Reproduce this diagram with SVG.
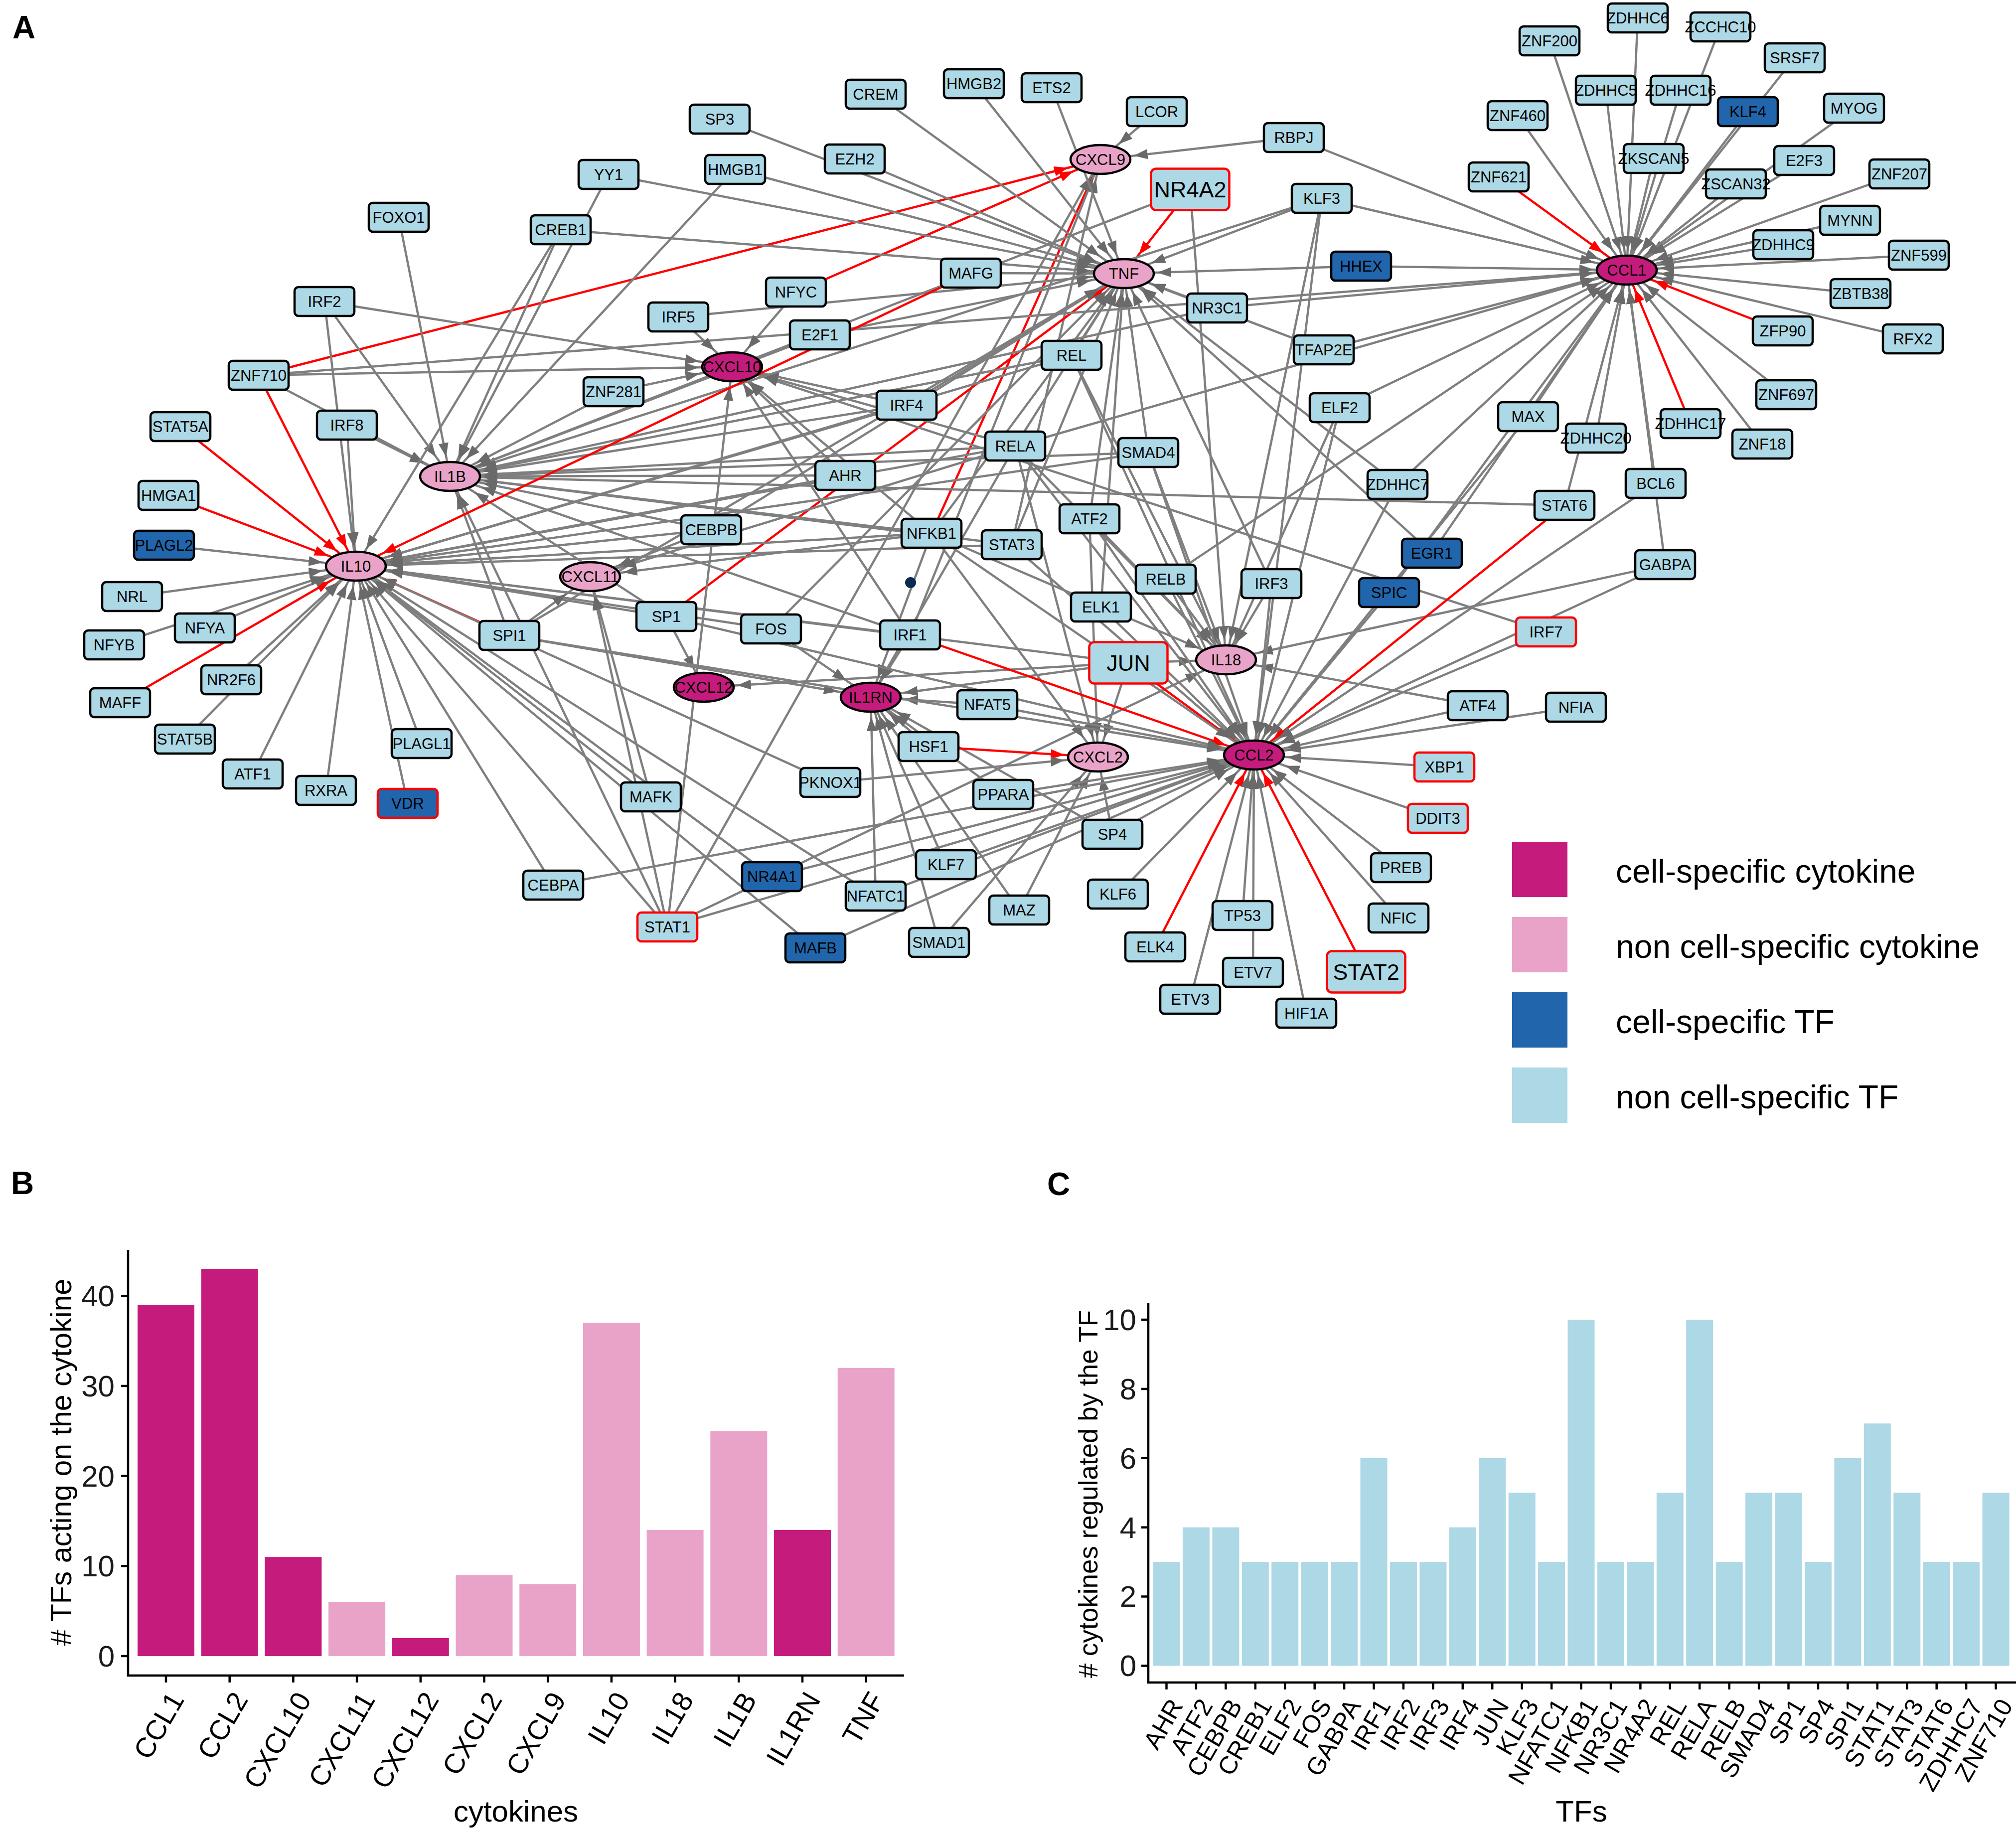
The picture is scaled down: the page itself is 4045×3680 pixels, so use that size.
<svg xmlns="http://www.w3.org/2000/svg" width="4045" height="3680" viewBox="0 0 4045 3680">
<defs>
<style>
#edges line{stroke:#7f7f7f;stroke-width:4.5;fill:none}
#edges line.rH,#edges line.rM,#edges line.rD,#edges line.rV{stroke:#ff0000;stroke-width:4.5}
.gH{marker-end:url(#mgH)}.gM{marker-end:url(#mgM)}.gD{marker-end:url(#mgD)}.gV{marker-end:url(#mgV)}
.rH{marker-end:url(#mrH)}.rM{marker-end:url(#mrM)}.rD{marker-end:url(#mrD)}.rV{marker-end:url(#mrV)}
.tf rect{fill:#add8e6;stroke:#000;stroke-width:4.5}
.tf.d rect{fill:#2166ac}
.tf.r rect{stroke:#ff0000}
.ck ellipse{stroke:#000;stroke-width:4.5}
.ck.cs ellipse{fill:#c51b7d}
.ck.nc ellipse{fill:#e9a3c9}
.tf text,.ck text{font-family:"Liberation Sans",Arial,sans-serif;font-size:31px;text-anchor:middle;fill:#000}
.tf.b text{font-size:45px}
.ax{stroke:#000;stroke-width:4.5;fill:none}
.tk{font-family:"Liberation Sans",Arial,sans-serif;font-size:60px;fill:#1a1a1a;text-anchor:end}
.xl{font-family:"Liberation Sans",Arial,sans-serif;font-size:56px;fill:#000;text-anchor:end}
.xc{font-family:"Liberation Sans",Arial,sans-serif;font-size:50px;fill:#000;text-anchor:end}
.tt{font-family:"Liberation Sans",Arial,sans-serif;fill:#000;text-anchor:middle}
.pl{font-family:"Liberation Sans",Arial,sans-serif;font-weight:bold;font-size:64px;fill:#000}
.lg{font-family:"Liberation Sans",Arial,sans-serif;font-size:66px;fill:#000}
</style>
<marker id="mgH" markerUnits="userSpaceOnUse" orient="auto" markerWidth="110" markerHeight="20" refX="95" refY="10"><path d="M0 0L28 10L0 20Z" fill="#6a6a6a"/></marker>
<marker id="mgM" markerUnits="userSpaceOnUse" orient="auto" markerWidth="110" markerHeight="20" refX="87" refY="10"><path d="M0 0L28 10L0 20Z" fill="#6a6a6a"/></marker>
<marker id="mgD" markerUnits="userSpaceOnUse" orient="auto" markerWidth="110" markerHeight="20" refX="76" refY="10"><path d="M0 0L28 10L0 20Z" fill="#6a6a6a"/></marker>
<marker id="mgV" markerUnits="userSpaceOnUse" orient="auto" markerWidth="110" markerHeight="20" refX="68" refY="10"><path d="M0 0L28 10L0 20Z" fill="#6a6a6a"/></marker>
<marker id="mrH" markerUnits="userSpaceOnUse" orient="auto" markerWidth="110" markerHeight="20" refX="95" refY="10"><path d="M0 0L28 10L0 20Z" fill="#ff0000"/></marker>
<marker id="mrM" markerUnits="userSpaceOnUse" orient="auto" markerWidth="110" markerHeight="20" refX="87" refY="10"><path d="M0 0L28 10L0 20Z" fill="#ff0000"/></marker>
<marker id="mrD" markerUnits="userSpaceOnUse" orient="auto" markerWidth="110" markerHeight="20" refX="76" refY="10"><path d="M0 0L28 10L0 20Z" fill="#ff0000"/></marker>
<marker id="mrV" markerUnits="userSpaceOnUse" orient="auto" markerWidth="110" markerHeight="20" refX="68" refY="10"><path d="M0 0L28 10L0 20Z" fill="#ff0000"/></marker>
</defs>
<rect x="0" y="0" width="4045" height="3680" fill="#fff"/>
<text class="pl" x="25" y="77">A</text>
<text class="pl" x="22" y="2396">B</text>
<text class="pl" x="2101" y="2398">C</text>
<g id="edges">
<line x1="2321" y1="224" x2="2208" y2="320" class="gD"/>
<line x1="2596" y1="276" x2="2208" y2="320" class="gH"/>
<line x1="519" y1="753" x2="2208" y2="320" class="rH"/>
<line x1="1597" y1="586" x2="2208" y2="320" class="rM"/>
<line x1="1869" y1="1070" x2="2208" y2="320" class="rV"/>
<line x1="1339" y1="1860" x2="2208" y2="320" class="gV"/>
<line x1="1826" y1="1274" x2="2208" y2="320" class="gV"/>
<line x1="2030" y1="1093" x2="2208" y2="320" class="gV"/>
<line x1="1444" y1="239" x2="2255" y2="549" class="gM"/>
<line x1="1757" y1="189" x2="2255" y2="549" class="gM"/>
<line x1="1954" y1="168" x2="2255" y2="549" class="gD"/>
<line x1="2110" y1="176" x2="2255" y2="549" class="gV"/>
<line x1="1475" y1="340" x2="2255" y2="549" class="gH"/>
<line x1="1715" y1="319" x2="2255" y2="549" class="gM"/>
<line x1="1221" y1="350" x2="2255" y2="549" class="gH"/>
<line x1="1125" y1="461" x2="2255" y2="549" class="gH"/>
<line x1="1948" y1="548" x2="2255" y2="549" class="gH"/>
<line x1="1361" y1="636" x2="2255" y2="549" class="gH"/>
<line x1="1645" y1="672" x2="2255" y2="549" class="gH"/>
<line x1="1337" y1="1237" x2="2255" y2="549" class="rD"/>
<line x1="2388" y1="380" x2="2255" y2="549" class="rD"/>
<line x1="2652" y1="398" x2="2255" y2="549" class="gM"/>
<line x1="2731" y1="534" x2="2255" y2="549" class="gH"/>
<line x1="2442" y1="618" x2="2255" y2="549" class="gM"/>
<line x1="2150" y1="713" x2="2255" y2="549" class="gV"/>
<line x1="2037" y1="895" x2="2255" y2="549" class="gV"/>
<line x1="2304" y1="908" x2="2255" y2="549" class="gV"/>
<line x1="2186" y1="1041" x2="2255" y2="549" class="gV"/>
<line x1="1819" y1="813" x2="2255" y2="549" class="gM"/>
<line x1="2656" y1="702" x2="2255" y2="549" class="gM"/>
<line x1="2030" y1="1093" x2="2255" y2="549" class="gV"/>
<line x1="1869" y1="1070" x2="2255" y2="549" class="gD"/>
<line x1="1547" y1="1262" x2="2255" y2="549" class="gD"/>
<line x1="1022" y1="1275" x2="2255" y2="549" class="gM"/>
<line x1="1427" y1="1063" x2="2255" y2="549" class="gM"/>
<line x1="2209" y1="1218" x2="2255" y2="549" class="gV"/>
<line x1="2873" y1="1110" x2="2255" y2="549" class="gD"/>
<line x1="2551" y1="1171" x2="2255" y2="549" class="gV"/>
<line x1="2804" y1="972" x2="2255" y2="549" class="gD"/>
<line x1="3286" y1="36" x2="3264" y2="542" class="gV"/>
<line x1="3452" y1="54" x2="3264" y2="542" class="gV"/>
<line x1="3109" y1="82" x2="3264" y2="542" class="gV"/>
<line x1="3601" y1="116" x2="3264" y2="542" class="gD"/>
<line x1="3222" y1="181" x2="3264" y2="542" class="gV"/>
<line x1="3372" y1="181" x2="3264" y2="542" class="gV"/>
<line x1="3045" y1="232" x2="3264" y2="542" class="gD"/>
<line x1="3507" y1="224" x2="3264" y2="542" class="gD"/>
<line x1="3720" y1="217" x2="3264" y2="542" class="gM"/>
<line x1="3318" y1="318" x2="3264" y2="542" class="gV"/>
<line x1="3620" y1="322" x2="3264" y2="542" class="gM"/>
<line x1="3811" y1="349" x2="3264" y2="542" class="gM"/>
<line x1="3007" y1="355" x2="3264" y2="542" class="rM"/>
<line x1="3483" y1="369" x2="3264" y2="542" class="gD"/>
<line x1="3712" y1="442" x2="3264" y2="542" class="gH"/>
<line x1="3578" y1="491" x2="3264" y2="542" class="gH"/>
<line x1="3850" y1="512" x2="3264" y2="542" class="gH"/>
<line x1="3733" y1="589" x2="3264" y2="542" class="gH"/>
<line x1="3577" y1="664" x2="3264" y2="542" class="rM"/>
<line x1="3838" y1="680" x2="3264" y2="542" class="gH"/>
<line x1="3584" y1="792" x2="3264" y2="542" class="gD"/>
<line x1="3392" y1="850" x2="3264" y2="542" class="rV"/>
<line x1="3536" y1="891" x2="3264" y2="542" class="gD"/>
<line x1="3066" y1="836" x2="3264" y2="542" class="gD"/>
<line x1="3202" y1="879" x2="3264" y2="542" class="gV"/>
<line x1="3322" y1="970" x2="3264" y2="542" class="gV"/>
<line x1="3139" y1="1014" x2="3264" y2="542" class="gV"/>
<line x1="2804" y1="972" x2="3264" y2="542" class="gD"/>
<line x1="2731" y1="534" x2="3264" y2="542" class="gH"/>
<line x1="2652" y1="398" x2="3264" y2="542" class="gH"/>
<line x1="2596" y1="276" x2="3264" y2="542" class="gM"/>
<line x1="2656" y1="702" x2="3264" y2="542" class="gH"/>
<line x1="2688" y1="818" x2="3264" y2="542" class="gM"/>
<line x1="3341" y1="1133" x2="3264" y2="542" class="gV"/>
<line x1="2873" y1="1110" x2="3264" y2="542" class="gD"/>
<line x1="2442" y1="618" x2="3264" y2="542" class="gH"/>
<line x1="2339" y1="1162" x2="3264" y2="542" class="gM"/>
<line x1="2787" y1="1189" x2="3264" y2="542" class="gD"/>
<line x1="519" y1="753" x2="3264" y2="542" class="gH"/>
<line x1="2037" y1="895" x2="3264" y2="542" class="gH"/>
<line x1="651" y1="605" x2="1469" y2="736" class="gH"/>
<line x1="519" y1="753" x2="1469" y2="736" class="gH"/>
<line x1="1597" y1="586" x2="1469" y2="736" class="gD"/>
<line x1="1361" y1="636" x2="1469" y2="736" class="gD"/>
<line x1="1231" y1="786" x2="1469" y2="736" class="gH"/>
<line x1="1696" y1="954" x2="1469" y2="736" class="gD"/>
<line x1="1339" y1="1860" x2="1469" y2="736" class="gV"/>
<line x1="1826" y1="1274" x2="1469" y2="736" class="gV"/>
<line x1="1869" y1="1070" x2="1469" y2="736" class="gD"/>
<line x1="2037" y1="895" x2="1469" y2="736" class="gH"/>
<line x1="3102" y1="1268" x2="1469" y2="736" class="gH"/>
<line x1="1819" y1="813" x2="1469" y2="736" class="gH"/>
<line x1="800" y1="436" x2="903" y2="956" class="gV"/>
<line x1="1221" y1="350" x2="903" y2="956" class="gV"/>
<line x1="1475" y1="340" x2="903" y2="956" class="gD"/>
<line x1="1125" y1="461" x2="903" y2="956" class="gV"/>
<line x1="651" y1="605" x2="903" y2="956" class="gD"/>
<line x1="519" y1="753" x2="903" y2="956" class="gM"/>
<line x1="696" y1="853" x2="903" y2="956" class="gM"/>
<line x1="1231" y1="786" x2="903" y2="956" class="gM"/>
<line x1="1696" y1="954" x2="903" y2="956" class="gH"/>
<line x1="2388" y1="380" x2="903" y2="956" class="gM"/>
<line x1="2652" y1="398" x2="903" y2="956" class="gH"/>
<line x1="1826" y1="1274" x2="903" y2="956" class="gH"/>
<line x1="1819" y1="813" x2="903" y2="956" class="gH"/>
<line x1="1869" y1="1070" x2="903" y2="956" class="gH"/>
<line x1="2037" y1="895" x2="903" y2="956" class="gH"/>
<line x1="2150" y1="713" x2="903" y2="956" class="gH"/>
<line x1="1337" y1="1237" x2="903" y2="956" class="gM"/>
<line x1="1022" y1="1275" x2="903" y2="956" class="gV"/>
<line x1="1339" y1="1860" x2="903" y2="956" class="gV"/>
<line x1="2030" y1="1093" x2="903" y2="956" class="gH"/>
<line x1="1427" y1="1063" x2="903" y2="956" class="gH"/>
<line x1="3139" y1="1014" x2="903" y2="956" class="gH"/>
<line x1="1645" y1="672" x2="903" y2="956" class="gM"/>
<line x1="2304" y1="908" x2="903" y2="956" class="gH"/>
<line x1="2442" y1="618" x2="903" y2="956" class="gH"/>
<line x1="362" y1="856" x2="714" y2="1136" class="rD"/>
<line x1="338" y1="994" x2="714" y2="1136" class="rM"/>
<line x1="519" y1="753" x2="714" y2="1136" class="rV"/>
<line x1="241" y1="1410" x2="714" y2="1136" class="rM"/>
<line x1="1022" y1="1275" x2="714" y2="1136" class="rM"/>
<line x1="1948" y1="548" x2="714" y2="1136" class="rM"/>
<line x1="329" y1="1094" x2="714" y2="1136" class="gH"/>
<line x1="265" y1="1197" x2="714" y2="1136" class="gH"/>
<line x1="411" y1="1260" x2="714" y2="1136" class="gM"/>
<line x1="229" y1="1294" x2="714" y2="1136" class="gH"/>
<line x1="464" y1="1364" x2="714" y2="1136" class="gD"/>
<line x1="371" y1="1483" x2="714" y2="1136" class="gD"/>
<line x1="507" y1="1553" x2="714" y2="1136" class="gV"/>
<line x1="654" y1="1586" x2="714" y2="1136" class="gV"/>
<line x1="846" y1="1492" x2="714" y2="1136" class="gV"/>
<line x1="818" y1="1612" x2="714" y2="1136" class="gV"/>
<line x1="696" y1="853" x2="714" y2="1136" class="gV"/>
<line x1="651" y1="605" x2="714" y2="1136" class="gV"/>
<line x1="1125" y1="461" x2="714" y2="1136" class="gV"/>
<line x1="1427" y1="1063" x2="714" y2="1136" class="gH"/>
<line x1="1547" y1="1262" x2="714" y2="1136" class="gH"/>
<line x1="1826" y1="1274" x2="714" y2="1136" class="gH"/>
<line x1="1819" y1="813" x2="714" y2="1136" class="gH"/>
<line x1="2264" y1="1330" x2="714" y2="1136" class="gH"/>
<line x1="1869" y1="1070" x2="714" y2="1136" class="gH"/>
<line x1="2037" y1="895" x2="714" y2="1136" class="gH"/>
<line x1="2150" y1="713" x2="714" y2="1136" class="gH"/>
<line x1="2304" y1="908" x2="714" y2="1136" class="gH"/>
<line x1="1337" y1="1237" x2="714" y2="1136" class="gH"/>
<line x1="1339" y1="1860" x2="714" y2="1136" class="gD"/>
<line x1="2030" y1="1093" x2="714" y2="1136" class="gH"/>
<line x1="1757" y1="1798" x2="714" y2="1136" class="gM"/>
<line x1="1306" y1="1599" x2="714" y2="1136" class="gD"/>
<line x1="1666" y1="1570" x2="714" y2="1136" class="gM"/>
<line x1="1110" y1="1776" x2="714" y2="1136" class="gV"/>
<line x1="1549" y1="1759" x2="714" y2="1136" class="gD"/>
<line x1="1636" y1="1902" x2="714" y2="1136" class="gD"/>
<line x1="1696" y1="954" x2="714" y2="1136" class="gH"/>
<line x1="1427" y1="1063" x2="1184" y2="1157" class="gM"/>
<line x1="1339" y1="1860" x2="1184" y2="1157" class="gV"/>
<line x1="1869" y1="1070" x2="1184" y2="1157" class="gH"/>
<line x1="2037" y1="895" x2="1184" y2="1157" class="gH"/>
<line x1="1022" y1="1275" x2="1184" y2="1157" class="gM"/>
<line x1="1306" y1="1599" x2="1184" y2="1157" class="gV"/>
<line x1="1337" y1="1237" x2="1412" y2="1379" class="gV"/>
<line x1="2264" y1="1330" x2="1412" y2="1379" class="gH"/>
<line x1="1826" y1="1274" x2="1747" y2="1399" class="gV"/>
<line x1="1547" y1="1262" x2="1747" y2="1399" class="gM"/>
<line x1="2264" y1="1330" x2="1747" y2="1399" class="gH"/>
<line x1="1757" y1="1798" x2="1747" y2="1399" class="gV"/>
<line x1="1869" y1="1070" x2="1747" y2="1399" class="gV"/>
<line x1="2037" y1="895" x2="1747" y2="1399" class="gV"/>
<line x1="2232" y1="1674" x2="1747" y2="1399" class="gM"/>
<line x1="1022" y1="1275" x2="1747" y2="1399" class="gH"/>
<line x1="1863" y1="1498" x2="1747" y2="1399" class="gD"/>
<line x1="2013" y1="1594" x2="1747" y2="1399" class="gM"/>
<line x1="1898" y1="1735" x2="1747" y2="1399" class="gV"/>
<line x1="1884" y1="1891" x2="1747" y2="1399" class="gV"/>
<line x1="2045" y1="1826" x2="1747" y2="1399" class="gD"/>
<line x1="1981" y1="1414" x2="1747" y2="1399" class="gH"/>
<line x1="2388" y1="380" x2="2460" y2="1324" class="gV"/>
<line x1="2652" y1="398" x2="2460" y2="1324" class="gV"/>
<line x1="2186" y1="1041" x2="2460" y2="1324" class="gD"/>
<line x1="2688" y1="818" x2="2460" y2="1324" class="gV"/>
<line x1="3341" y1="1133" x2="2460" y2="1324" class="gH"/>
<line x1="2551" y1="1171" x2="2460" y2="1324" class="gV"/>
<line x1="2264" y1="1330" x2="2460" y2="1324" class="gH"/>
<line x1="1869" y1="1070" x2="2460" y2="1324" class="gM"/>
<line x1="2037" y1="895" x2="2460" y2="1324" class="gD"/>
<line x1="2339" y1="1162" x2="2460" y2="1324" class="gD"/>
<line x1="2304" y1="908" x2="2460" y2="1324" class="gV"/>
<line x1="1339" y1="1860" x2="2460" y2="1324" class="gM"/>
<line x1="2965" y1="1416" x2="2460" y2="1324" class="gH"/>
<line x1="2150" y1="713" x2="2460" y2="1324" class="gV"/>
<line x1="2186" y1="1041" x2="2203" y2="1519" class="gV"/>
<line x1="2264" y1="1330" x2="2203" y2="1519" class="gV"/>
<line x1="1869" y1="1070" x2="2203" y2="1519" class="gD"/>
<line x1="2037" y1="895" x2="2203" y2="1519" class="gV"/>
<line x1="2232" y1="1674" x2="2203" y2="1519" class="gV"/>
<line x1="1863" y1="1498" x2="2203" y2="1519" class="rH"/>
<line x1="1666" y1="1570" x2="2203" y2="1519" class="gH"/>
<line x1="1884" y1="1891" x2="2203" y2="1519" class="gD"/>
<line x1="2045" y1="1826" x2="2203" y2="1519" class="gV"/>
<line x1="1826" y1="1274" x2="2516" y2="1515" class="rM"/>
<line x1="2264" y1="1330" x2="2516" y2="1515" class="rM"/>
<line x1="3139" y1="1014" x2="2516" y2="1515" class="rD"/>
<line x1="2318" y1="1900" x2="2516" y2="1515" class="rV"/>
<line x1="2741" y1="1950" x2="2516" y2="1515" class="rV"/>
<line x1="2551" y1="1171" x2="2516" y2="1515" class="gV"/>
<line x1="2652" y1="398" x2="2516" y2="1515" class="gV"/>
<line x1="2186" y1="1041" x2="2516" y2="1515" class="gD"/>
<line x1="2688" y1="818" x2="2516" y2="1515" class="gV"/>
<line x1="3341" y1="1133" x2="2516" y2="1515" class="gM"/>
<line x1="1869" y1="1070" x2="2516" y2="1515" class="gM"/>
<line x1="2037" y1="895" x2="2516" y2="1515" class="gD"/>
<line x1="2339" y1="1162" x2="2516" y2="1515" class="gV"/>
<line x1="2150" y1="713" x2="2516" y2="1515" class="gV"/>
<line x1="2304" y1="908" x2="2516" y2="1515" class="gV"/>
<line x1="1337" y1="1237" x2="2516" y2="1515" class="gH"/>
<line x1="1022" y1="1275" x2="2516" y2="1515" class="gH"/>
<line x1="1339" y1="1860" x2="2516" y2="1515" class="gH"/>
<line x1="2030" y1="1093" x2="2516" y2="1515" class="gD"/>
<line x1="2804" y1="972" x2="2516" y2="1515" class="gV"/>
<line x1="1757" y1="1798" x2="2516" y2="1515" class="gM"/>
<line x1="2232" y1="1674" x2="2516" y2="1515" class="gM"/>
<line x1="3066" y1="836" x2="2516" y2="1515" class="gD"/>
<line x1="3322" y1="970" x2="2516" y2="1515" class="gM"/>
<line x1="2787" y1="1189" x2="2516" y2="1515" class="gD"/>
<line x1="3102" y1="1268" x2="2516" y2="1515" class="gM"/>
<line x1="1981" y1="1414" x2="2516" y2="1515" class="gH"/>
<line x1="2965" y1="1416" x2="2516" y2="1515" class="gH"/>
<line x1="3162" y1="1419" x2="2516" y2="1515" class="gH"/>
<line x1="2013" y1="1594" x2="2516" y2="1515" class="gH"/>
<line x1="2898" y1="1539" x2="2516" y2="1515" class="gH"/>
<line x1="2885" y1="1642" x2="2516" y2="1515" class="gH"/>
<line x1="1110" y1="1776" x2="2516" y2="1515" class="gH"/>
<line x1="1549" y1="1759" x2="2516" y2="1515" class="gH"/>
<line x1="1898" y1="1735" x2="2516" y2="1515" class="gM"/>
<line x1="2243" y1="1794" x2="2516" y2="1515" class="gD"/>
<line x1="2811" y1="1741" x2="2516" y2="1515" class="gD"/>
<line x1="1636" y1="1902" x2="2516" y2="1515" class="gM"/>
<line x1="2493" y1="1837" x2="2516" y2="1515" class="gV"/>
<line x1="2806" y1="1842" x2="2516" y2="1515" class="gD"/>
<line x1="2514" y1="1951" x2="2516" y2="1515" class="gV"/>
<line x1="2388" y1="2005" x2="2516" y2="1515" class="gV"/>
<line x1="2621" y1="2033" x2="2516" y2="1515" class="gV"/>
<line x1="2209" y1="1218" x2="2516" y2="1515" class="gD"/>
</g>
<g id="nodes">
<g id="n-CXCL9" class="ck nc"><ellipse cx="2208" cy="320" rx="60" ry="29"/><text x="2208" y="331">CXCL9</text></g>
<g id="n-TNF" class="ck nc"><ellipse cx="2255" cy="549" rx="60" ry="29"/><text x="2255" y="560">TNF</text></g>
<g id="n-CCL1" class="ck cs"><ellipse cx="3264" cy="542" rx="60" ry="29"/><text x="3264" y="553">CCL1</text></g>
<g id="n-CXCL10" class="ck cs"><ellipse cx="1469" cy="736" rx="60" ry="29"/><text x="1469" y="747">CXCL10</text></g>
<g id="n-IL1B" class="ck nc"><ellipse cx="903" cy="956" rx="60" ry="29"/><text x="903" y="967">IL1B</text></g>
<g id="n-IL10" class="ck nc"><ellipse cx="714" cy="1136" rx="60" ry="29"/><text x="714" y="1147">IL10</text></g>
<g id="n-CXCL11" class="ck nc"><ellipse cx="1184" cy="1157" rx="60" ry="29"/><text x="1184" y="1168">CXCL11</text></g>
<g id="n-CXCL12" class="ck cs"><ellipse cx="1412" cy="1379" rx="60" ry="29"/><text x="1412" y="1390">CXCL12</text></g>
<g id="n-IL1RN" class="ck cs"><ellipse cx="1747" cy="1399" rx="60" ry="29"/><text x="1747" y="1410">IL1RN</text></g>
<g id="n-IL18" class="ck nc"><ellipse cx="2460" cy="1324" rx="60" ry="29"/><text x="2460" y="1335">IL18</text></g>
<g id="n-CXCL2" class="ck nc"><ellipse cx="2203" cy="1519" rx="60" ry="29"/><text x="2203" y="1530">CXCL2</text></g>
<g id="n-CCL2" class="ck cs"><ellipse cx="2516" cy="1515" rx="60" ry="29"/><text x="2516" y="1526">CCL2</text></g>
<circle id="n-dot" cx="1827" cy="1169" r="11" fill="#0b2a52"/>
<g id="n-SP3" class="tf"><rect x="1384" y="210" width="120" height="58" rx="8"/><text x="1444" y="250">SP3</text></g>
<g id="n-CREM" class="tf"><rect x="1697" y="160" width="120" height="58" rx="8"/><text x="1757" y="200">CREM</text></g>
<g id="n-HMGB2" class="tf"><rect x="1894" y="139" width="120" height="58" rx="8"/><text x="1954" y="179">HMGB2</text></g>
<g id="n-ETS2" class="tf"><rect x="2050" y="147" width="120" height="58" rx="8"/><text x="2110" y="187">ETS2</text></g>
<g id="n-LCOR" class="tf"><rect x="2261" y="195" width="120" height="58" rx="8"/><text x="2321" y="235">LCOR</text></g>
<g id="n-RBPJ" class="tf"><rect x="2536" y="247" width="120" height="58" rx="8"/><text x="2596" y="287">RBPJ</text></g>
<g id="n-NR4A2" class="tf r b"><rect x="2309.5" y="338.5" width="157" height="83" rx="10"/><text x="2388" y="396">NR4A2</text></g>
<g id="n-KLF3" class="tf"><rect x="2592" y="369" width="120" height="58" rx="8"/><text x="2652" y="409">KLF3</text></g>
<g id="n-YY1" class="tf"><rect x="1161" y="321" width="120" height="58" rx="8"/><text x="1221" y="361">YY1</text></g>
<g id="n-HMGB1" class="tf"><rect x="1415" y="311" width="120" height="58" rx="8"/><text x="1475" y="351">HMGB1</text></g>
<g id="n-EZH2" class="tf"><rect x="1655" y="290" width="120" height="58" rx="8"/><text x="1715" y="330">EZH2</text></g>
<g id="n-FOXO1" class="tf"><rect x="740" y="407" width="120" height="58" rx="8"/><text x="800" y="447">FOXO1</text></g>
<g id="n-CREB1" class="tf"><rect x="1065" y="432" width="120" height="58" rx="8"/><text x="1125" y="472">CREB1</text></g>
<g id="n-IRF2" class="tf"><rect x="591" y="576" width="120" height="58" rx="8"/><text x="651" y="616">IRF2</text></g>
<g id="n-NFYC" class="tf"><rect x="1537" y="557" width="120" height="58" rx="8"/><text x="1597" y="597">NFYC</text></g>
<g id="n-MAFG" class="tf"><rect x="1888" y="519" width="120" height="58" rx="8"/><text x="1948" y="559">MAFG</text></g>
<g id="n-HHEX" class="tf d"><rect x="2671" y="505" width="120" height="58" rx="8"/><text x="2731" y="545">HHEX</text></g>
<g id="n-NR3C1" class="tf"><rect x="2382" y="589" width="120" height="58" rx="8"/><text x="2442" y="629">NR3C1</text></g>
<g id="n-IRF5" class="tf"><rect x="1301" y="607" width="120" height="58" rx="8"/><text x="1361" y="647">IRF5</text></g>
<g id="n-E2F1" class="tf"><rect x="1585" y="643" width="120" height="58" rx="8"/><text x="1645" y="683">E2F1</text></g>
<g id="n-REL" class="tf"><rect x="2090" y="684" width="120" height="58" rx="8"/><text x="2150" y="724">REL</text></g>
<g id="n-TFAP2E" class="tf"><rect x="2596" y="673" width="120" height="58" rx="8"/><text x="2656" y="713">TFAP2E</text></g>
<g id="n-ZNF710" class="tf"><rect x="459" y="724" width="120" height="58" rx="8"/><text x="519" y="764">ZNF710</text></g>
<g id="n-ZNF281" class="tf"><rect x="1171" y="757" width="120" height="58" rx="8"/><text x="1231" y="797">ZNF281</text></g>
<g id="n-IRF4" class="tf"><rect x="1759" y="784" width="120" height="58" rx="8"/><text x="1819" y="824">IRF4</text></g>
<g id="n-ELF2" class="tf"><rect x="2628" y="789" width="120" height="58" rx="8"/><text x="2688" y="829">ELF2</text></g>
<g id="n-MAX" class="tf"><rect x="3006" y="807" width="120" height="58" rx="8"/><text x="3066" y="847">MAX</text></g>
<g id="n-STAT5A" class="tf"><rect x="302" y="827" width="120" height="58" rx="8"/><text x="362" y="867">STAT5A</text></g>
<g id="n-IRF8" class="tf"><rect x="636" y="824" width="120" height="58" rx="8"/><text x="696" y="864">IRF8</text></g>
<g id="n-RELA" class="tf"><rect x="1977" y="866" width="120" height="58" rx="8"/><text x="2037" y="906">RELA</text></g>
<g id="n-SMAD4" class="tf"><rect x="2244" y="879" width="120" height="58" rx="8"/><text x="2304" y="919">SMAD4</text></g>
<g id="n-ZDHHC20" class="tf"><rect x="3142" y="850" width="120" height="58" rx="8"/><text x="3202" y="890">ZDHHC20</text></g>
<g id="n-ZDHHC17" class="tf"><rect x="3332" y="821" width="120" height="58" rx="8"/><text x="3392" y="861">ZDHHC17</text></g>
<g id="n-ZNF18" class="tf"><rect x="3476" y="862" width="120" height="58" rx="8"/><text x="3536" y="902">ZNF18</text></g>
<g id="n-HMGA1" class="tf"><rect x="278" y="965" width="120" height="58" rx="8"/><text x="338" y="1005">HMGA1</text></g>
<g id="n-AHR" class="tf"><rect x="1636" y="925" width="120" height="58" rx="8"/><text x="1696" y="965">AHR</text></g>
<g id="n-ZDHHC7" class="tf"><rect x="2744" y="943" width="120" height="58" rx="8"/><text x="2804" y="983">ZDHHC7</text></g>
<g id="n-STAT6" class="tf"><rect x="3079" y="985" width="120" height="58" rx="8"/><text x="3139" y="1025">STAT6</text></g>
<g id="n-BCL6" class="tf"><rect x="3262" y="941" width="120" height="58" rx="8"/><text x="3322" y="981">BCL6</text></g>
<g id="n-PLAGL2" class="tf d"><rect x="269" y="1065" width="120" height="58" rx="8"/><text x="329" y="1105">PLAGL2</text></g>
<g id="n-CEBPB" class="tf"><rect x="1367" y="1034" width="120" height="58" rx="8"/><text x="1427" y="1074">CEBPB</text></g>
<g id="n-NFKB1" class="tf"><rect x="1809" y="1041" width="120" height="58" rx="8"/><text x="1869" y="1081">NFKB1</text></g>
<g id="n-ATF2" class="tf"><rect x="2126" y="1012" width="120" height="58" rx="8"/><text x="2186" y="1052">ATF2</text></g>
<g id="n-STAT3" class="tf"><rect x="1970" y="1064" width="120" height="58" rx="8"/><text x="2030" y="1104">STAT3</text></g>
<g id="n-EGR1" class="tf d"><rect x="2813" y="1081" width="120" height="58" rx="8"/><text x="2873" y="1121">EGR1</text></g>
<g id="n-GABPA" class="tf"><rect x="3281" y="1104" width="120" height="58" rx="8"/><text x="3341" y="1144">GABPA</text></g>
<g id="n-NRL" class="tf"><rect x="205" y="1168" width="120" height="58" rx="8"/><text x="265" y="1208">NRL</text></g>
<g id="n-NFYA" class="tf"><rect x="351" y="1231" width="120" height="58" rx="8"/><text x="411" y="1271">NFYA</text></g>
<g id="n-NFYB" class="tf"><rect x="169" y="1265" width="120" height="58" rx="8"/><text x="229" y="1305">NFYB</text></g>
<g id="n-SP1" class="tf"><rect x="1277" y="1208" width="120" height="58" rx="8"/><text x="1337" y="1248">SP1</text></g>
<g id="n-FOS" class="tf"><rect x="1487" y="1233" width="120" height="58" rx="8"/><text x="1547" y="1273">FOS</text></g>
<g id="n-IRF1" class="tf"><rect x="1766" y="1245" width="120" height="58" rx="8"/><text x="1826" y="1285">IRF1</text></g>
<g id="n-ELK1" class="tf"><rect x="2149" y="1189" width="120" height="58" rx="8"/><text x="2209" y="1229">ELK1</text></g>
<g id="n-RELB" class="tf"><rect x="2279" y="1133" width="120" height="58" rx="8"/><text x="2339" y="1173">RELB</text></g>
<g id="n-IRF3" class="tf"><rect x="2491" y="1142" width="120" height="58" rx="8"/><text x="2551" y="1182">IRF3</text></g>
<g id="n-SPIC" class="tf d"><rect x="2727" y="1160" width="120" height="58" rx="8"/><text x="2787" y="1200">SPIC</text></g>
<g id="n-IRF7" class="tf r"><rect x="3042" y="1239" width="120" height="58" rx="8"/><text x="3102" y="1279">IRF7</text></g>
<g id="n-SPI1" class="tf"><rect x="962" y="1246" width="120" height="58" rx="8"/><text x="1022" y="1286">SPI1</text></g>
<g id="n-NR2F6" class="tf"><rect x="404" y="1335" width="120" height="58" rx="8"/><text x="464" y="1375">NR2F6</text></g>
<g id="n-MAFF" class="tf"><rect x="181" y="1381" width="120" height="58" rx="8"/><text x="241" y="1421">MAFF</text></g>
<g id="n-JUN" class="tf r b"><rect x="2185.5" y="1288.5" width="157" height="83" rx="10"/><text x="2264" y="1346">JUN</text></g>
<g id="n-NFAT5" class="tf"><rect x="1921" y="1385" width="120" height="58" rx="8"/><text x="1981" y="1425">NFAT5</text></g>
<g id="n-ATF4" class="tf"><rect x="2905" y="1387" width="120" height="58" rx="8"/><text x="2965" y="1427">ATF4</text></g>
<g id="n-NFIA" class="tf"><rect x="3102" y="1390" width="120" height="58" rx="8"/><text x="3162" y="1430">NFIA</text></g>
<g id="n-STAT5B" class="tf"><rect x="311" y="1454" width="120" height="58" rx="8"/><text x="371" y="1494">STAT5B</text></g>
<g id="n-PLAGL1" class="tf"><rect x="786" y="1463" width="120" height="58" rx="8"/><text x="846" y="1503">PLAGL1</text></g>
<g id="n-HSF1" class="tf"><rect x="1803" y="1469" width="120" height="58" rx="8"/><text x="1863" y="1509">HSF1</text></g>
<g id="n-ATF1" class="tf"><rect x="447" y="1524" width="120" height="58" rx="8"/><text x="507" y="1564">ATF1</text></g>
<g id="n-RXRA" class="tf"><rect x="594" y="1557" width="120" height="58" rx="8"/><text x="654" y="1597">RXRA</text></g>
<g id="n-VDR" class="tf d r"><rect x="758" y="1583" width="120" height="58" rx="8"/><text x="818" y="1623">VDR</text></g>
<g id="n-MAFK" class="tf"><rect x="1246" y="1570" width="120" height="58" rx="8"/><text x="1306" y="1610">MAFK</text></g>
<g id="n-PKNOX1" class="tf"><rect x="1606" y="1541" width="120" height="58" rx="8"/><text x="1666" y="1581">PKNOX1</text></g>
<g id="n-PPARA" class="tf"><rect x="1953" y="1565" width="120" height="58" rx="8"/><text x="2013" y="1605">PPARA</text></g>
<g id="n-XBP1" class="tf r"><rect x="2838" y="1510" width="120" height="58" rx="8"/><text x="2898" y="1550">XBP1</text></g>
<g id="n-DDIT3" class="tf r"><rect x="2825" y="1613" width="120" height="58" rx="8"/><text x="2885" y="1653">DDIT3</text></g>
<g id="n-SP4" class="tf"><rect x="2172" y="1645" width="120" height="58" rx="8"/><text x="2232" y="1685">SP4</text></g>
<g id="n-CEBPA" class="tf"><rect x="1050" y="1747" width="120" height="58" rx="8"/><text x="1110" y="1787">CEBPA</text></g>
<g id="n-NR4A1" class="tf d"><rect x="1489" y="1730" width="120" height="58" rx="8"/><text x="1549" y="1770">NR4A1</text></g>
<g id="n-KLF7" class="tf"><rect x="1838" y="1706" width="120" height="58" rx="8"/><text x="1898" y="1746">KLF7</text></g>
<g id="n-NFATC1" class="tf"><rect x="1697" y="1769" width="120" height="58" rx="8"/><text x="1757" y="1809">NFATC1</text></g>
<g id="n-KLF6" class="tf"><rect x="2183" y="1765" width="120" height="58" rx="8"/><text x="2243" y="1805">KLF6</text></g>
<g id="n-PREB" class="tf"><rect x="2751" y="1712" width="120" height="58" rx="8"/><text x="2811" y="1752">PREB</text></g>
<g id="n-MAFB" class="tf d"><rect x="1576" y="1873" width="120" height="58" rx="8"/><text x="1636" y="1913">MAFB</text></g>
<g id="n-STAT1" class="tf r"><rect x="1279" y="1831" width="120" height="58" rx="8"/><text x="1339" y="1871">STAT1</text></g>
<g id="n-SMAD1" class="tf"><rect x="1824" y="1862" width="120" height="58" rx="8"/><text x="1884" y="1902">SMAD1</text></g>
<g id="n-MAZ" class="tf"><rect x="1985" y="1797" width="120" height="58" rx="8"/><text x="2045" y="1837">MAZ</text></g>
<g id="n-TP53" class="tf"><rect x="2433" y="1808" width="120" height="58" rx="8"/><text x="2493" y="1848">TP53</text></g>
<g id="n-NFIC" class="tf"><rect x="2746" y="1813" width="120" height="58" rx="8"/><text x="2806" y="1853">NFIC</text></g>
<g id="n-ELK4" class="tf"><rect x="2258" y="1871" width="120" height="58" rx="8"/><text x="2318" y="1911">ELK4</text></g>
<g id="n-STAT2" class="tf r b"><rect x="2662.5" y="1908.5" width="157" height="83" rx="10"/><text x="2741" y="1966">STAT2</text></g>
<g id="n-ETV7" class="tf"><rect x="2454" y="1922" width="120" height="58" rx="8"/><text x="2514" y="1962">ETV7</text></g>
<g id="n-ETV3" class="tf"><rect x="2328" y="1976" width="120" height="58" rx="8"/><text x="2388" y="2016">ETV3</text></g>
<g id="n-HIF1A" class="tf"><rect x="2561" y="2004" width="120" height="58" rx="8"/><text x="2621" y="2044">HIF1A</text></g>
<g id="n-ZDHHC6" class="tf"><rect x="3226" y="7" width="120" height="58" rx="8"/><text x="3286" y="47">ZDHHC6</text></g>
<g id="n-ZCCHC10" class="tf"><rect x="3392" y="25" width="120" height="58" rx="8"/><text x="3452" y="65">ZCCHC10</text></g>
<g id="n-ZNF200" class="tf"><rect x="3049" y="53" width="120" height="58" rx="8"/><text x="3109" y="93">ZNF200</text></g>
<g id="n-SRSF7" class="tf"><rect x="3541" y="87" width="120" height="58" rx="8"/><text x="3601" y="127">SRSF7</text></g>
<g id="n-ZDHHC5" class="tf"><rect x="3162" y="152" width="120" height="58" rx="8"/><text x="3222" y="192">ZDHHC5</text></g>
<g id="n-ZDHHC16" class="tf"><rect x="3312" y="152" width="120" height="58" rx="8"/><text x="3372" y="192">ZDHHC16</text></g>
<g id="n-ZNF460" class="tf"><rect x="2985" y="203" width="120" height="58" rx="8"/><text x="3045" y="243">ZNF460</text></g>
<g id="n-KLF4" class="tf d"><rect x="3447" y="195" width="120" height="58" rx="8"/><text x="3507" y="235">KLF4</text></g>
<g id="n-MYOG" class="tf"><rect x="3660" y="188" width="120" height="58" rx="8"/><text x="3720" y="228">MYOG</text></g>
<g id="n-ZKSCAN5" class="tf"><rect x="3258" y="289" width="120" height="58" rx="8"/><text x="3318" y="329">ZKSCAN5</text></g>
<g id="n-E2F3" class="tf"><rect x="3560" y="293" width="120" height="58" rx="8"/><text x="3620" y="333">E2F3</text></g>
<g id="n-ZNF207" class="tf"><rect x="3751" y="320" width="120" height="58" rx="8"/><text x="3811" y="360">ZNF207</text></g>
<g id="n-ZNF621" class="tf"><rect x="2947" y="326" width="120" height="58" rx="8"/><text x="3007" y="366">ZNF621</text></g>
<g id="n-ZSCAN32" class="tf"><rect x="3423" y="340" width="120" height="58" rx="8"/><text x="3483" y="380">ZSCAN32</text></g>
<g id="n-MYNN" class="tf"><rect x="3652" y="413" width="120" height="58" rx="8"/><text x="3712" y="453">MYNN</text></g>
<g id="n-ZDHHC9" class="tf"><rect x="3518" y="462" width="120" height="58" rx="8"/><text x="3578" y="502">ZDHHC9</text></g>
<g id="n-ZNF599" class="tf"><rect x="3790" y="483" width="120" height="58" rx="8"/><text x="3850" y="523">ZNF599</text></g>
<g id="n-ZBTB38" class="tf"><rect x="3673" y="560" width="120" height="58" rx="8"/><text x="3733" y="600">ZBTB38</text></g>
<g id="n-ZFP90" class="tf"><rect x="3517" y="635" width="120" height="58" rx="8"/><text x="3577" y="675">ZFP90</text></g>
<g id="n-RFX2" class="tf"><rect x="3778" y="651" width="120" height="58" rx="8"/><text x="3838" y="691">RFX2</text></g>
<g id="n-ZNF697" class="tf"><rect x="3524" y="763" width="120" height="58" rx="8"/><text x="3584" y="803">ZNF697</text></g>
</g>
<g id="legend">
<rect x="3034" y="1689" width="111" height="111" fill="#c51b7d"/>
<rect x="3034" y="1840" width="111" height="111" fill="#e9a3c9"/>
<rect x="3034" y="1991" width="111" height="111" fill="#2166ac"/>
<rect x="3034" y="2142" width="111" height="111" fill="#add8e6"/>
<text class="lg" x="3242" y="1771">cell-specific cytokine</text>
<text class="lg" x="3242" y="1922">non cell-specific cytokine</text>
<text class="lg" x="3242" y="2073">cell-specific TF</text>
<text class="lg" x="3242" y="2224">non cell-specific TF</text>
</g>
<g id="panelB">
<rect x="276" y="2618.3" width="114" height="704.7" fill="#c51b7d"/>
<rect x="403.7" y="2546" width="114" height="777" fill="#c51b7d"/>
<rect x="531.4" y="3124.2" width="114" height="198.8" fill="#c51b7d"/>
<rect x="659.1" y="3214.6" width="114" height="108.4" fill="#e9a3c9"/>
<rect x="786.8" y="3286.9" width="114" height="36.1" fill="#c51b7d"/>
<rect x="914.5" y="3160.4" width="114" height="162.6" fill="#e9a3c9"/>
<rect x="1042.2" y="3178.4" width="114" height="144.6" fill="#e9a3c9"/>
<rect x="1169.9" y="2654.4" width="114" height="668.6" fill="#e9a3c9"/>
<rect x="1297.6" y="3070" width="114" height="253" fill="#e9a3c9"/>
<rect x="1425.3" y="2871.2" width="114" height="451.8" fill="#e9a3c9"/>
<rect x="1553" y="3070" width="114" height="253" fill="#c51b7d"/>
<rect x="1680.7" y="2744.8" width="114" height="578.2" fill="#e9a3c9"/>
<path class="ax" d="M257 2508V3362H1814"/>
<path class="ax" d="M243 3323H257M243 3142.3H257M243 2961.6H257M243 2780.9H257M243 2600.2H257"/>
<path class="ax" d="M333 3362V3376M460.7 3362V3376M588.4 3362V3376M716.1 3362V3376M843.8 3362V3376M971.5 3362V3376M1099.2 3362V3376M1226.9 3362V3376M1354.6 3362V3376M1482.3 3362V3376M1610 3362V3376M1737.7 3362V3376"/>
<text class="tk" x="230" y="3344">0</text>
<text class="tk" x="230" y="3163">10</text>
<text class="tk" x="230" y="2983">20</text>
<text class="tk" x="230" y="2802">30</text>
<text class="tk" x="230" y="2621">40</text>
<text class="xl" transform="translate(371,3410) rotate(-60)">CCL1</text>
<text class="xl" transform="translate(499,3410) rotate(-60)">CCL2</text>
<text class="xl" transform="translate(626,3410) rotate(-60)">CXCL10</text>
<text class="xl" transform="translate(754,3410) rotate(-60)">CXCL11</text>
<text class="xl" transform="translate(882,3410) rotate(-60)">CXCL12</text>
<text class="xl" transform="translate(1009,3410) rotate(-60)">CXCL2</text>
<text class="xl" transform="translate(1137,3410) rotate(-60)">CXCL9</text>
<text class="xl" transform="translate(1265,3410) rotate(-60)">IL10</text>
<text class="xl" transform="translate(1393,3410) rotate(-60)">IL18</text>
<text class="xl" transform="translate(1520,3410) rotate(-60)">IL1B</text>
<text class="xl" transform="translate(1648,3410) rotate(-60)">IL1RN</text>
<text class="xl" transform="translate(1776,3410) rotate(-60)">TNF</text>
<text class="tt" font-size="59" transform="translate(143,2934) rotate(-90)"># TFs acting on the cytokine</text>
<text class="tt" font-size="60" x="1035" y="3655">cytokines</text>
</g>
<g id="panelC" fill="#add8e6">
<rect x="2313.5" y="3134.1" width="54" height="208.4"/>
<rect x="2372.9" y="3064.7" width="54" height="277.8"/>
<rect x="2432.4" y="3064.7" width="54" height="277.8"/>
<rect x="2491.8" y="3134.1" width="54" height="208.4"/>
<rect x="2551.2" y="3134.1" width="54" height="208.4"/>
<rect x="2610.7" y="3134.1" width="54" height="208.4"/>
<rect x="2670.1" y="3134.1" width="54" height="208.4"/>
<rect x="2729.5" y="2925.8" width="54" height="416.7"/>
<rect x="2788.9" y="3134.1" width="54" height="208.4"/>
<rect x="2848.4" y="3134.1" width="54" height="208.4"/>
<rect x="2907.8" y="3064.7" width="54" height="277.8"/>
<rect x="2967.2" y="2925.8" width="54" height="416.7"/>
<rect x="3026.7" y="2995.2" width="54" height="347.3"/>
<rect x="3086.1" y="3134.1" width="54" height="208.4"/>
<rect x="3145.5" y="2648" width="54" height="694.5"/>
<rect x="3205" y="3134.1" width="54" height="208.4"/>
<rect x="3264.4" y="3134.1" width="54" height="208.4"/>
<rect x="3323.8" y="2995.2" width="54" height="347.3"/>
<rect x="3383.2" y="2648" width="54" height="694.5"/>
<rect x="3442.7" y="3134.1" width="54" height="208.4"/>
<rect x="3502.1" y="2995.2" width="54" height="347.3"/>
<rect x="3561.5" y="2995.2" width="54" height="347.3"/>
<rect x="3621" y="3134.1" width="54" height="208.4"/>
<rect x="3680.4" y="2925.8" width="54" height="416.7"/>
<rect x="3739.8" y="2856.3" width="54" height="486.2"/>
<rect x="3799.3" y="2995.2" width="54" height="347.3"/>
<rect x="3858.7" y="3134.1" width="54" height="208.4"/>
<rect x="3918.1" y="3134.1" width="54" height="208.4"/>
<rect x="3977.5" y="2995.2" width="54" height="347.3"/>
<path class="ax" d="M2304 2615V3376H4045"/>
<path class="ax" d="M2290 3342.5H2304M2290 3203.6H2304M2290 3064.7H2304M2290 2925.8H2304M2290 2786.9H2304M2290 2648H2304"/>
<path class="ax" d="M2340.5 3376V3390M2399.9 3376V3390M2459.4 3376V3390M2518.8 3376V3390M2578.2 3376V3390M2637.7 3376V3390M2697.1 3376V3390M2756.5 3376V3390M2815.9 3376V3390M2875.4 3376V3390M2934.8 3376V3390M2994.2 3376V3390M3053.7 3376V3390M3113.1 3376V3390M3172.5 3376V3390M3232 3376V3390M3291.4 3376V3390M3350.8 3376V3390M3410.2 3376V3390M3469.7 3376V3390M3529.1 3376V3390M3588.5 3376V3390M3648 3376V3390M3707.4 3376V3390M3766.8 3376V3390M3826.3 3376V3390M3885.7 3376V3390M3945.1 3376V3390M4004.5 3376V3390"/>
<text class="tk" x="2280" y="3363">0</text>
<text class="tk" x="2280" y="3224">2</text>
<text class="tk" x="2280" y="3086">4</text>
<text class="tk" x="2280" y="2947">6</text>
<text class="tk" x="2280" y="2808">8</text>
<text class="tk" x="2280" y="2669">10</text>
<text class="xc" transform="translate(2375,3422) rotate(-60)">AHR</text>
<text class="xc" transform="translate(2435,3422) rotate(-60)">ATF2</text>
<text class="xc" transform="translate(2494,3422) rotate(-60)">CEBPB</text>
<text class="xc" transform="translate(2554,3422) rotate(-60)">CREB1</text>
<text class="xc" transform="translate(2613,3422) rotate(-60)">ELF2</text>
<text class="xc" transform="translate(2673,3422) rotate(-60)">FOS</text>
<text class="xc" transform="translate(2732,3422) rotate(-60)">GABPA</text>
<text class="xc" transform="translate(2792,3422) rotate(-60)">IRF1</text>
<text class="xc" transform="translate(2851,3422) rotate(-60)">IRF2</text>
<text class="xc" transform="translate(2910,3422) rotate(-60)">IRF3</text>
<text class="xc" transform="translate(2970,3422) rotate(-60)">IRF4</text>
<text class="xc" transform="translate(3029,3422) rotate(-60)">JUN</text>
<text class="xc" transform="translate(3089,3422) rotate(-60)">KLF3</text>
<text class="xc" transform="translate(3148,3422) rotate(-60)">NFATC1</text>
<text class="xc" transform="translate(3208,3422) rotate(-60)">NFKB1</text>
<text class="xc" transform="translate(3267,3422) rotate(-60)">NR3C1</text>
<text class="xc" transform="translate(3326,3422) rotate(-60)">NR4A2</text>
<text class="xc" transform="translate(3386,3422) rotate(-60)">REL</text>
<text class="xc" transform="translate(3445,3422) rotate(-60)">RELA</text>
<text class="xc" transform="translate(3505,3422) rotate(-60)">RELB</text>
<text class="xc" transform="translate(3564,3422) rotate(-60)">SMAD4</text>
<text class="xc" transform="translate(3624,3422) rotate(-60)">SP1</text>
<text class="xc" transform="translate(3683,3422) rotate(-60)">SP4</text>
<text class="xc" transform="translate(3742,3422) rotate(-60)">SPI1</text>
<text class="xc" transform="translate(3802,3422) rotate(-60)">STAT1</text>
<text class="xc" transform="translate(3861,3422) rotate(-60)">STAT3</text>
<text class="xc" transform="translate(3921,3422) rotate(-60)">STAT6</text>
<text class="xc" transform="translate(3980,3422) rotate(-60)">ZDHHC7</text>
<text class="xc" transform="translate(4040,3422) rotate(-60)">ZNF710</text>
<text class="tt" font-size="53" fill="#000" transform="translate(2202,2998) rotate(-90)"># cytokines regulated by the TF</text>
<text class="tt" font-size="60" fill="#000" x="3173" y="3655">TFs</text>
</g>
</svg>
